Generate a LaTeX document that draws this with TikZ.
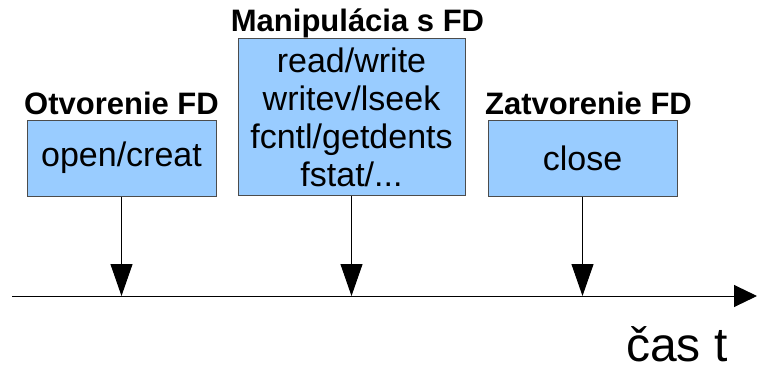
\documentclass[tikz,border=0pt]{standalone}
\usepackage{fontspec}
\setmainfont{Liberation Sans}
\usetikzlibrary{positioning,arrows.meta}
\definecolor{boxblue}{HTML}{99CCFF}

\begin{document}
\begin{tikzpicture}[x=1pt,y=-1pt,line width=1pt,
    callbox/.style={draw=black!70,fill=boxblue,minimum width=189pt,minimum height=76pt,
        inner sep=0pt,align=center,font=\fontsize{34}{38}\selectfont},
    phase/.style={anchor=base,inner sep=0pt,font=\fontsize{31}{34}\selectfont\bfseries},
    tick/.style={-{Triangle[length=32pt,width=22pt]}}]
        \useasboundingbox (0,0) rectangle (757,369);
        \node[callbox] (open) at (121.5,158) {open/creat};
        \node[callbox,minimum width=227pt,minimum height=156pt] (manip) at (351.5,117)
            {read/write\\writev/lseek\\fcntl/getdents\\fstat/...};
        \node[callbox] (close) at (582.5,158) {close};
        \node[phase] (openlbl) at ([yshift=5pt]open.north) {Otvorenie FD};
        \node[phase] (maniplbl) at ([xshift=6pt,yshift=7pt]manip.north) {Manipulácia s FD};
        \node[phase] (closelbl) at ([xshift=6pt,yshift=5pt]close.north) {Zatvorenie FD};

        \coordinate (t0) at (12,296);
        \coordinate (t1) at (757,296);
        \draw[-{Triangle[length=23pt,width=22pt]}] (t0) -- (t1);
        \node[anchor=base east,inner sep=0pt,font=\fontsize{48}{52}\selectfont] (time) at (728,361) {čas t};

        \draw[tick] (open) -- (open |- t0);
        \draw[tick] (manip) -- (manip |- t0);
        \draw[tick] (close) -- (close |- t0);
\end{tikzpicture}
\end{document}
